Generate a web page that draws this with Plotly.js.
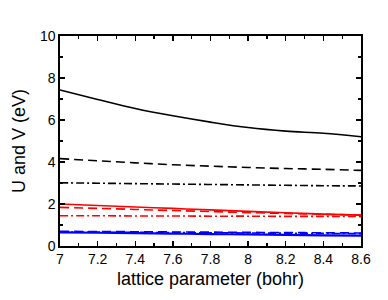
<!DOCTYPE html>
<html><head><meta charset="utf-8">
<script src="https://cdn.plot.ly/plotly-3.0.1.min.js"></script>
<style>body{margin:0;background:#fff}#c{width:388px;height:300px}</style>
</head><body><div id="c"></div>
<script>
const lattice = [7.0, 7.2, 7.4, 7.6, 7.8, 8.0, 8.2, 8.4, 8.6];
const blackSolid = [7.43, 6.98, 6.55, 6.2, 5.9, 5.64, 5.47, 5.37, 5.2];
const blackDash = [4.16, 4.06, 3.96, 3.87, 3.8, 3.74, 3.69, 3.65, 3.6];
const blackDashDot = [3.01, 2.99, 2.97, 2.95, 2.93, 2.91, 2.89, 2.87, 2.86];
const redSolid = [2.0, 1.93, 1.86, 1.79, 1.72, 1.65, 1.58, 1.52, 1.47];
const redDash = [1.84, 1.79, 1.74, 1.69, 1.64, 1.59, 1.55, 1.51, 1.47];
const redDashDot = [1.44, 1.44, 1.43, 1.43, 1.42, 1.42, 1.41, 1.41, 1.40];
const blueSolid = [0.65, 0.63, 0.61, 0.59, 0.57, 0.55, 0.53, 0.51, 0.49];
const blueDash = [0.70, 0.69, 0.68, 0.67, 0.66, 0.65, 0.64, 0.63, 0.62];
const blueDashDot = [0.67, 0.66, 0.65, 0.64, 0.63, 0.62, 0.61, 0.60, 0.59];

function tr(y, color, dash, w) {
  return {x: lattice, y: y, mode: 'lines', line: {color: color, dash: dash, width: w || 1.6, shape: 'spline'}, hoverinfo: 'skip'};
}
const data = [
  tr(blackSolid, '#000', 'solid'),
  tr(blackDash, '#000', '9px,5px'),
  tr(blackDashDot, '#000', '8px,3px,2px,3px'),
  tr(redSolid, '#ff0000', 'solid'),
  tr(redDash, '#ff0000', '9px,5px'),
  tr(redDashDot, '#ff0000', '8px,3px,2px,3px'),
  tr(blueDash, '#0000ff', '9px,5px'),
  tr(blueDashDot, '#0000ff', '8px,3px,2px,3px'),
  tr(blueSolid, '#0000ff', 'solid', 2.2)
];
const font = {family: 'Liberation Sans, Arial, sans-serif', color: '#000'};
const layout = {
  width: 388, height: 300,
  margin: {l: 60, r: 27, t: 36, b: 54},
  showlegend: false,
  paper_bgcolor: '#fff', plot_bgcolor: '#fff',
  font: font,
  xaxis: {
    range: [7, 8.6], tickvals: [7, 7.2, 7.4, 7.6, 7.8, 8, 8.2, 8.4, 8.6],
    ticktext: ['7', '7.2', '7.4', '7.6', '7.8', '8', '8.2', '8.4', '8.6'],
    ticks: 'inside', ticklen: 5, tickwidth: 1.3, tickcolor: '#000',
    minor: {dtick: 0.1, tick0: 7, ticks: 'inside', ticklen: 3, tickwidth: 1.3, tickcolor: '#000'},
    showline: true, linecolor: '#000', linewidth: 1.6, mirror: 'ticks',
    showgrid: false, zeroline: false,
    tickfont: {size: 14, family: font.family},
    title: {text: 'lattice parameter (bohr)', font: {size: 18, family: font.family}, standoff: 6}
  },
  yaxis: {
    range: [0, 10], tickvals: [0, 2, 4, 6, 8, 10],
    ticks: 'inside', ticklen: 5, tickwidth: 1.3, tickcolor: '#000',
    minor: {dtick: 1, tick0: 0, ticks: 'inside', ticklen: 3, tickwidth: 1.3, tickcolor: '#000'},
    showline: true, linecolor: '#000', linewidth: 1.6, mirror: 'ticks',
    showgrid: false, zeroline: false,
    tickfont: {size: 14, family: font.family},
    title: {text: 'U and V (eV)', font: {size: 18, family: font.family}, standoff: 10}
  }
};
Plotly.newPlot('c', data, layout, {staticPlot: true, displayModeBar: false});
</script></body></html>
